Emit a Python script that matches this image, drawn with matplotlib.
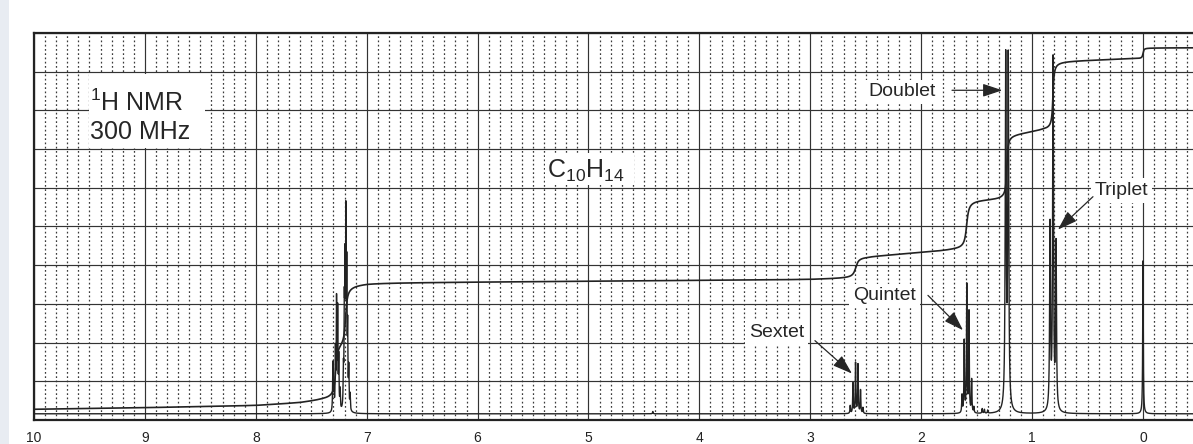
import numpy as np
import matplotlib
matplotlib.use('Agg')
import matplotlib.pyplot as plt
from matplotlib.patches import Rectangle
from matplotlib.ticker import MultipleLocator

plt.rcParams['font.family'] = ['Liberation Sans', 'DejaVu Sans']
plt.rcParams['mathtext.fontset'] = 'custom'
plt.rcParams['mathtext.rm'] = 'Liberation Sans'
plt.rcParams['mathtext.it'] = 'Liberation Sans:italic'

# ---------------- data ----------------
# spectrum lines: position (ppm), height above baseline (grid divisions)
aromatic_ppm = [7.305, 7.296, 7.282, 7.272, 7.262, 7.252, 7.240, 7.210, 7.202, 7.196, 7.188, 7.180, 7.172, 7.162, 7.150]
aromatic_h   = [1.25, 0.60, 1.50, 2.75, 2.50, 1.30, 0.50, 0.90, 2.30, 3.30, 4.60, 3.30, 1.90, 1.00, 0.40]
sextet_ppm = [2.640, 2.615, 2.592, 2.570, 2.547, 2.525]
sextet_h   = [0.20, 0.78, 1.30, 1.26, 0.60, 0.15]
quintet_ppm = [1.632, 1.612, 1.589, 1.569, 1.545, 1.525]
quintet_h   = [0.45, 1.85, 3.30, 2.60, 0.85, 0.15]
noise_ppm = [4.42, 1.45, 1.43, 1.40]
noise_h   = [0.06, 0.12, 0.10, 0.08]
doublet_ppm = [1.238, 1.215]
doublet_h   = [9.00, 9.00]
triplet_ppm = [0.838, 0.811, 0.784]
triplet_h   = [4.75, 9.05, 4.25]
tms_ppm = [0.0]
tms_h   = [3.95]
BASELINE = 0.16

# integral trace: steps (ppm centre, rise, width) and slow drift (ppm, level)
step_ppm    = [7.280, 7.190, 2.590, 1.590, 1.228, 0.812, 0.000]
step_height = [1.40, 1.60, 0.57, 1.30, 1.65, 1.78, 0.28]
step_width  = [0.012, 0.012, 0.020, 0.015, 0.008, 0.008, 0.006]
drift_ppm   = [10.5, 10.0, 9.0, 8.0, 7.6, 7.4, 7.0, 3.0, 2.7, 2.5, 1.7, 1.3, 0.9, 0.7, 0.1, -0.6]
drift_level = [0.25, 0.27, 0.31, 0.36, 0.42, 0.48, 0.55, 0.62, 0.64, 0.65, 0.80, 0.83, 0.98, 1.00, 1.05, 1.05]

tick_values = list(range(10, -1, -1))
tick_labels = [str(v) for v in tick_values]

# ---------------- build curves ----------------
groups = [
    (aromatic_ppm, aromatic_h, 0.0028),
    (sextet_ppm, sextet_h, 0.0030),
    (quintet_ppm, quintet_h, 0.0030),
    (noise_ppm, noise_h, 0.0030),
    (doublet_ppm, doublet_h, 0.0050),
    (triplet_ppm, triplet_h, 0.0045),
    (tms_ppm, tms_h, 0.0030),
]
x = np.arange(10.5, -0.6, -0.0004)
spec = np.full_like(x, BASELINE)
for ppms, hs, g in groups:
    for c, h in zip(ppms, hs):
        spec += h * g**2 / ((x - c)**2 + g**2)

integ = np.interp(x, drift_ppm[::-1], drift_level[::-1])
for c, h, w in zip(step_ppm, step_height, step_width):
    integ += h * (0.5 + np.arctan((c - x) / w) / np.pi)

# ---------------- figure ----------------
W, H = 1193, 444
fig = plt.figure(figsize=(W / 100, H / 100), dpi=100)
fig.patches.append(Rectangle((0, 0), 9 / W, 1, transform=fig.transFigure,
                             facecolor='#e8ecf2', edgecolor='none', zorder=0))
ax = fig.add_axes([34 / W, 24 / H, 1159 / W, 387 / H])
ax.set_xlim(10.0, -0.451)
ax.set_ylim(0, 10)

ax.set_xticks(tick_values)
ax.set_xticklabels(tick_labels, fontsize=10, color='#222222')
ax.xaxis.set_minor_locator(MultipleLocator(0.1))
ax.set_yticks(range(0, 11))
ax.set_yticklabels([])
ax.tick_params(which='both', length=0, pad=8.0)
ax.set_axisbelow(True)
ax.grid(which='major', axis='both', color='#333333', lw=0.85, ls='-')
ax.grid(which='minor', axis='x', color='#3a3a3a', lw=0.9, ls=(0, (1.4, 2.0)))
for s in ['top', 'bottom', 'left']:
    ax.spines[s].set_linewidth(1.6)
    ax.spines[s].set_color('#222222')
ax.spines['right'].set_visible(False)

# white patches behind texts
ax.add_patch(Rectangle((9.504, 7.04), 8.458 - 9.504, 8.94 - 7.04, facecolor='white',
                       edgecolor='none', zorder=1))
ax.add_patch(Rectangle((5.392, 6.06), 4.589 - 5.392, 6.90 - 6.06, facecolor='white',
                       edgecolor='none', zorder=1))

ax.plot(x, spec, color='#222222', lw=1.0, zorder=2)
ax.plot(x, integ, color='#222222', lw=1.2, zorder=2)

ax.text(9.495, 7.99, r'$\mathregular{^1}$H NMR', fontsize=18, color='#262626',
        ha='left', va='baseline', zorder=3)
ax.text(9.495, 7.27, '300 MHz', fontsize=18, color='#262626',
        ha='left', va='baseline', zorder=3)
ax.text(5.374, 6.25, r'C$\mathregular{_{10}}$H$\mathregular{_{14}}$', fontsize=18,
        color='#262626', ha='left', va='baseline', zorder=3)

box = dict(boxstyle='square,pad=0.2', facecolor='white', edgecolor='none')
labels = [
    ('Doublet', 2.480, 8.36, (1.722, 8.52), (1.268, 8.52)),
    ('Triplet', 0.433, 5.82, (0.451, 5.77), (0.767, 4.92)),
    ('Quintet', 2.615, 3.09, (1.939, 3.22), (1.623, 2.32)),
    ('Sextet', 3.553, 2.15, (2.958, 2.05), (2.624, 1.20)),
]
for txt, tx, ty, start, tip in labels:
    ax.text(tx, ty, txt, fontsize=14, color='#262626', ha='left', va='baseline',
            bbox=box, zorder=3)
    ax.annotate('', xy=tip, xytext=start,
                arrowprops=dict(arrowstyle='-|>,head_length=0.6,head_width=0.2',
                                mutation_scale=20, lw=0.9, color='#262626',
                                shrinkA=0, shrinkB=0), zorder=4)

fig.savefig('out.png', dpi=100, facecolor='white')
